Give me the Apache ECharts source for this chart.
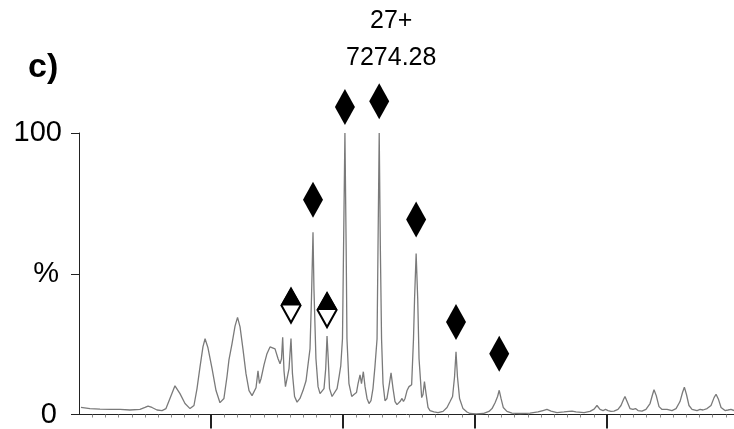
<!DOCTYPE html>
<html>
<head>
<meta charset="utf-8">
<style>
  html, body { margin: 0; padding: 0; background: #fff; }
  #chart { width: 734px; height: 429px; }
</style>
<script src="https://cdn.jsdelivr.net/npm/echarts@6/dist/echarts.min.js"></script>
</head>
<body>
<div id="chart"></div>
<script>
// Spectrum trace: m/z and relative intensity (%)
const mz = [
  5015, 5083, 5159, 5235, 5311, 5386, 5462, 5500, 5523, 5553, 5591, 5629, 5659, 5689, 5727, 5765,
  5803, 5841, 5871, 5894, 5917, 5939, 5955, 5977, 6008, 6038, 6068, 6098, 6121, 6136, 6159, 6182,
  6201, 6220, 6242, 6265, 6288, 6311, 6326, 6341, 6356, 6367, 6379, 6402, 6424, 6447, 6462, 6485,
  6508, 6523, 6534, 6543, 6553, 6564, 6576, 6591, 6606, 6617, 6633, 6652, 6674, 6697, 6720, 6735,
  6750, 6761, 6772.7, 6780, 6795, 6811, 6826, 6841, 6856, 6869, 6879, 6888, 6898, 6917, 6932, 6955,
  6970, 6983, 6996, 7004, 7014.5, 7024, 7030, 7045, 7066, 7083, 7102, 7114, 7129, 7140, 7154, 7167,
  7182, 7197, 7212, 7227, 7242, 7258, 7265, 7274.28, 7283, 7292, 7303, 7318, 7333, 7348, 7364, 7379,
  7394, 7409, 7432, 7447, 7458, 7470, 7485, 7500, 7520, 7534, 7542, 7554, 7566, 7576, 7596, 7606,
  7617, 7629, 7644, 7659, 7689, 7720, 7758, 7788, 7811, 7830, 7845, 7856.1, 7867, 7883, 7909, 7939,
  7962, 8008, 8061, 8106, 8129, 8152, 8171, 8183.4, 8197, 8214, 8242, 8280, 8341, 8417, 8477, 8515,
  8545, 8576, 8621, 8674, 8712, 8735, 8765, 8826, 8871, 8902, 8924, 8947, 8970, 8989, 9008, 9030,
  9053, 9083, 9106, 9125, 9136, 9152, 9174, 9197, 9216, 9235, 9265, 9295, 9326, 9345, 9356, 9373,
  9394, 9417, 9432, 9455, 9492, 9523, 9553, 9572, 9586, 9602, 9621, 9644, 9682, 9705, 9727, 9758,
  9788, 9811, 9826, 9845, 9864, 9894, 9917, 9939, 9962
];
const intensity = [
  2.5, 2.1, 1.9, 1.8, 1.8, 1.6, 1.8, 2.5, 3.0, 2.5, 1.6, 1.4, 2.1, 5.7, 10.2, 7.4,
  3.9, 2.1, 3.2, 9.2, 17.0, 24.0, 26.9, 23.7, 16.3, 8.5, 4.2, 5.7, 13.4, 19.4, 25.1, 31.4,
  34.5, 31.1, 23.3, 14.5, 8.5, 6.7, 7.1, 9.5, 15.5, 11.0, 12.7, 17.7, 21.6, 24.0, 24.6, 23.3,
  19.8, 18.0, 19.8, 27.4, 15.5, 9.9, 9.9, 16.3, 27.0, 14.5, 6.4, 4.4, 5.7, 8.5, 12.0, 17.7,
  23.3, 41.0, 64.7, 44.5, 19.8, 9.9, 7.4, 7.4, 9.2, 16.3, 27.9, 19.8, 9.2, 6.4, 6.0, 9.2,
  13.4, 17.3, 26.9, 58.7, 100, 58.7, 26.9, 11.0, 6.4, 7.1, 7.8, 11.0, 14.1, 11.0, 15.2, 9.9,
  5.7, 3.9, 4.9, 9.2, 17.0, 26.9, 58.7, 100, 58.7, 26.9, 11.0, 4.9, 5.7, 9.9, 14.8, 9.2,
  4.6, 3.5, 4.6, 5.7, 4.6, 5.7, 8.5, 9.9, 10.6, 26.9, 41.0, 57.2, 41.0, 19.8, 6.0, 7.1,
  11.7, 7.4, 2.5, 1.4, 0.9, 0.7, 1.1, 2.5, 4.6, 6.4, 13.4, 22.3, 13.4, 5.7, 2.1, 0.9,
  0.35, 0.2, 0.35, 1.1, 2.1, 4.2, 6.4, 8.6, 5.7, 2.5, 1.1, 0.5, 0.35, 0.5, 0.9, 1.4,
  1.8, 1.2, 0.7, 0.9, 1.1, 1.2, 0.9, 0.7, 1.1, 1.9, 3.2, 1.8, 1.4, 1.8, 1.4, 1.1,
  1.2, 1.8, 3.2, 5.3, 6.4, 4.6, 2.1, 1.8, 2.1, 1.4, 1.2, 1.8, 3.9, 7.1, 8.8, 6.7,
  2.8, 1.8, 2.1, 1.8, 1.4, 2.1, 4.6, 7.8, 9.7, 7.1, 3.2, 1.8, 1.4, 1.8, 1.6, 2.1,
  3.2, 6.0, 7.2, 5.3, 2.5, 1.4, 1.6, 1.8, 1.4
];

// Charge-state series (filled diamonds): peak m/z and marker level
const chargeStates = [29, 28, 27, 26, 25, 24];
const diamondMz = [6772.7, 7014.5, 7274.28, 7554.0, 7856.1, 8183.4];
const diamondLevel = [76.3, 109.2, 111.3, 69.3, 32.9, 21.6];

// Second species (half-filled diamonds)
const halfDiamondMz = [6606, 6879];
const halfDiamondLevel = [38.7, 37.1];

// Annotated peak
const labelledCharge = 27;
const labelledMz = 7274.28;

// Axis range and ticks
const xMin = 5000, xMax = 9962, xStep = 1000;
const majorTicks = [6000, 7000, 8000, 9000];
const yTicks = [0, 50, 100];
const yTickLabels = ['{z|0}', '{p|%}', '{h|100}'];

const FONT = '"Liberation Sans", Arial, sans-serif';

const spectrum = mz.map((m, i) => [m, intensity[i]]);
const diamonds = diamondMz.map((m, i) => {
  const item = { value: [m, diamondLevel[i]] };
  if (m === labelledMz) {
    item.label = {
      show: true,
      position: 'top',
      distance: 7,
      offset: [12, 0],
      formatter: labelledCharge + '+\n' + labelledMz.toFixed(2),
      fontFamily: FONT,
      fontSize: 25,
      lineHeight: 37,
      color: '#000'
    };
  }
  return item;
});
const halfDiamonds = halfDiamondMz.map((m, i) => [m, halfDiamondLevel[i]]);

const chart = echarts.init(document.getElementById('chart'), null, { renderer: 'canvas' });

const labelRich = {
  z: { fontFamily: FONT, fontSize: 29, color: '#000', padding: [0, 5, 0, 0] },
  p: { fontFamily: FONT, fontSize: 29, color: '#000', padding: [0, 3, 0, 0] },
  h: { fontFamily: FONT, fontSize: 29, color: '#000' }
};

chart.setOption({
  animation: false,
  backgroundColor: '#fff',
  grid: { left: 79, right: 0, top: 133, bottom: 13, containLabel: false },
  graphic: [{
    type: 'text',
    left: 28,
    top: 51,
    style: { text: 'c)', font: 'bold 34px ' + FONT, fill: '#000' }
  }],
  xAxis: {
    type: 'value',
    min: xMin,
    max: xMax,
    interval: xStep,
    axisLine: { show: true, lineStyle: { color: '#222', width: 1 } },
    axisTick: {
      show: true,
      customValues: majorTicks,
      length: 14,
      lineStyle: { color: '#222', width: 2 }
    },
    minorTick: {
      show: true,
      splitNumber: 10,
      length: 3,
      lineStyle: { color: '#888', width: 1 }
    },
    axisLabel: { show: false },
    splitLine: { show: false },
    minorSplitLine: { show: false }
  },
  yAxis: {
    type: 'value',
    min: 0,
    max: 100,
    interval: 50,
    axisLine: { show: true, lineStyle: { color: '#222', width: 1 } },
    axisTick: { show: true, length: 8, lineStyle: { color: '#222', width: 1 } },
    axisLabel: {
      margin: 17,
      fontFamily: FONT,
      fontSize: 29,
      color: '#000',
      rich: labelRich,
      formatter: v => yTickLabels[yTicks.indexOf(v)]
    },
    splitLine: { show: false }
  },
  series: [
    {
      type: 'line',
      data: spectrum,
      showSymbol: false,
      symbol: 'none',
      sampling: 'none',
      smooth: false,
      lineStyle: { color: '#7a7a7a', width: 1.3 },
      z: 2
    },
    {
      type: 'scatter',
      data: diamonds,
      clip: false,
      symbol: 'diamond',
      symbolSize: [20, 36],
      itemStyle: { color: '#000', opacity: 1 },
      z: 5
    },
    {
      // lower half: white diamond with dark outline
      type: 'scatter',
      data: halfDiamonds,
      clip: false,
      symbol: 'diamond',
      symbolSize: [19, 34],
      itemStyle: { color: '#fff', borderColor: '#000', borderWidth: 2.2, opacity: 1 },
      z: 5
    },
    {
      // upper half filled black
      type: 'scatter',
      data: halfDiamonds,
      clip: false,
      symbol: 'path://M0,10 L10,0 L20,10 Z',
      symbolSize: [21, 18],
      symbolOffset: [0, -9],
      itemStyle: { color: '#000', opacity: 1 },
      z: 6
    }
  ]
});
</script>
</body>
</html>
